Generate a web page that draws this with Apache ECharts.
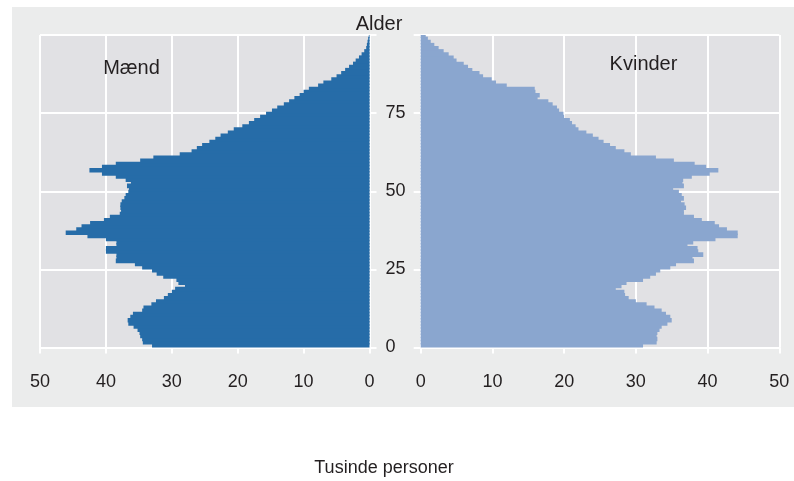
<!DOCTYPE html>
<html>
<head>
<meta charset="utf-8">
<script src="https://cdn.jsdelivr.net/npm/echarts@6/dist/echarts.min.js"></script>
<style>
  html, body { margin: 0; padding: 0; background: #fff; }
  #wrap { position: relative; width: 794px; height: 481px; }
  #panel { position: absolute; left: 12px; top: 7px; width: 782px; height: 400px; background: #ebecec; }
  #chart { position: absolute; left: 0; top: 0; width: 794px; height: 481px; }
</style>
</head>
<body>
<div id="wrap"><div id="panel"></div><div id="chart"></div></div>
<script>
// alder 0-99
const ages = [
  0, 1, 2, 3, 4, 5, 6, 7, 8, 9,
  10, 11, 12, 13, 14, 15, 16, 17, 18, 19,
  20, 21, 22, 23, 24, 25, 26, 27, 28, 29,
  30, 31, 32, 33, 34, 35, 36, 37, 38, 39,
  40, 41, 42, 43, 44, 45, 46, 47, 48, 49,
  50, 51, 52, 53, 54, 55, 56, 57, 58, 59,
  60, 61, 62, 63, 64, 65, 66, 67, 68, 69,
  70, 71, 72, 73, 74, 75, 76, 77, 78, 79,
  80, 81, 82, 83, 84, 85, 86, 87, 88, 89,
  90, 91, 92, 93, 94, 95, 96, 97, 98, 99
]

// tusinde personer
const maend = [
  33.0, 34.4, 34.5, 34.8, 34.9, 35.2, 35.8, 36.6, 36.7, 36.3,
  35.9, 34.5, 34.3, 33.1, 32.4, 31.2, 30.6, 30.0, 29.5, 28.0,
  29.0, 29.3, 31.3, 32.3, 33.0, 34.5, 35.6, 38.5, 38.4, 38.4,
  40.0, 40.0, 38.4, 38.4, 40.0, 42.8, 46.1, 44.5, 43.7, 42.4,
  40.3, 39.4, 37.9, 37.7, 37.8, 37.8, 37.6, 37.2, 37.0, 36.6,
  36.5, 36.8, 36.2, 37.0, 38.5, 40.6, 42.5, 40.6, 38.5, 34.8,
  32.8, 28.8, 27.0, 26.2, 25.4, 24.3, 23.4, 22.6, 21.5, 20.6,
  19.3, 18.3, 17.5, 16.6, 15.7, 14.8, 14.0, 13.0, 12.2, 11.4,
  10.6, 10.0, 9.2, 7.8, 7.0, 5.8, 5.0, 4.3, 3.7, 3.1,
  2.5, 2.1, 1.6, 1.2, 0.8, 0.5, 0.4, 0.3, 0.2, 0.1
]

const kvinder = [
  31.0, 32.9, 33.0, 32.9, 33.0, 33.3, 33.6, 34.4, 35.0, 34.8,
  34.2, 33.6, 32.6, 31.5, 30.0, 29.0, 28.5, 28.4, 27.2, 28.0,
  28.7, 31.0, 32.0, 32.8, 33.4, 34.8, 35.6, 38.1, 37.9, 39.4,
  38.7, 38.6, 37.2, 38.0, 41.1, 44.2, 44.2, 42.7, 41.6, 41.0,
  39.2, 38.1, 36.7, 36.7, 37.0, 36.8, 36.3, 36.7, 36.4, 36.0,
  35.2, 36.7, 36.5, 36.6, 37.8, 40.3, 41.5, 39.8, 38.2, 35.3,
  32.8, 29.3, 28.4, 27.2, 26.4, 25.5, 24.8, 24.0, 23.1, 22.0,
  21.6, 21.1, 20.8, 20.0, 19.9, 19.3, 19.0, 18.4, 17.8, 16.3,
  16.6, 16.0, 15.9, 12.0, 10.5, 9.9, 8.7, 8.2, 7.2, 6.6,
  6.0, 5.0, 4.6, 3.9, 3.2, 2.5, 1.9, 1.4, 1.0, 0.7
]

const ageTicks = [0, 25, 50, 75]
const valueTicks = [0, 10, 20, 30, 40, 50]

const fontFamily = '"Liberation Sans", Arial, sans-serif'
const tickSize = 18
const titleSize = 20
const noteSize = 18

const textColor = '#231f20'
const white = '#ffffff'

function barItem(color) {
  return function (params, api) {
    const age = api.value(0)
    const val = api.value(1)
    const a = api.coord([0, age])
    const b = api.coord([val, age + 1])
    // bjælken trækkes lidt op under den næste, så der ikke ses fuger
    const top = params.dataIndex === params.dataInsideLength - 1 ? b[1] : b[1] - 1.5
    return {
      type: 'rect',
      silent: true,
      shape: {
        x: Math.min(a[0], b[0]),
        y: top,
        width: Math.abs(b[0] - a[0]),
        height: a[1] - top
      },
      style: { fill: color, stroke: null, lineWidth: 0 }
    }
  }
}

function valueAxis(gridIndex, inverse) {
  return {
    gridIndex: gridIndex,
    type: 'value',
    inverse: inverse,
    min: valueTicks[0],
    max: valueTicks[valueTicks.length - 1],
    interval: valueTicks[1] - valueTicks[0],
    axisLine: { show: true, lineStyle: { color: white, width: 2 } },
    axisTick: { show: true, length: 6, lineStyle: { color: white, width: 2 } },
    axisLabel: { margin: 26, fontSize: tickSize, color: textColor, fontFamily: fontFamily },
    splitLine: { show: true, lineStyle: { color: white, width: 2 } }
  }
}

function ageAxis(gridIndex, position, showLabel) {
  return {
    gridIndex: gridIndex,
    type: 'value',
    position: position,
    min: 0,
    max: 100,
    interval: ageTicks[1] - ageTicks[0],
    axisLine: { show: false },
    axisTick: { show: true, length: 7, lineStyle: { color: white, width: 2 } },
    axisLabel: {
      show: showLabel,
      margin: 16,
      fontSize: tickSize,
      color: textColor,
      fontFamily: fontFamily,
      formatter: v => (ageTicks.includes(v) ? String(v) : '')
    },
    splitLine: { show: true, lineStyle: { color: white, width: 2 } }
  }
}

function label(text, x, y, size) {
  return {
    type: 'text',
    x: x,
    y: y,
    z: 10,
    style: {
      text: text,
      fill: textColor,
      font: size + 'px ' + fontFamily,
      textAlign: 'center',
      textVerticalAlign: 'middle'
    }
  }
}

const chart = echarts.init(document.getElementById('chart'))

chart.setOption({
  animation: false,
  backgroundColor: 'transparent',
  graphic: [
    label('Alder', 379, 24, titleSize),
    label('Mænd', 131.5, 68.5, titleSize),
    label('Kvinder', 643.5, 64, titleSize),
    label('Tusinde personer', 384, 468, noteSize)
  ],
  grid: [
    { left: 40, top: 35, width: 329.5, height: 312.5, show: true, backgroundColor: '#e1e1e4', borderWidth: 0 },
    { left: 420.7, top: 35, width: 358.6, height: 312.5, show: true, backgroundColor: '#e1e1e4', borderWidth: 0 }
  ],
  xAxis: [valueAxis(0, true), valueAxis(1, false)],
  yAxis: [ageAxis(0, 'right', true), ageAxis(1, 'left', false)],
  series: [
    {
      name: 'Mænd',
      type: 'custom',
      xAxisIndex: 0,
      yAxisIndex: 0,
      renderItem: barItem('#266ca8'),
      encode: { x: 1, y: 0 },
      data: ages.map((a, i) => [a, maend[i]])
    },
    {
      name: 'Kvinder',
      type: 'custom',
      xAxisIndex: 1,
      yAxisIndex: 1,
      renderItem: barItem('#8aa6cf'),
      encode: { x: 1, y: 0 },
      data: ages.map((a, i) => [a, kvinder[i]])
    }
  ]
})
</script>
</body>
</html>
